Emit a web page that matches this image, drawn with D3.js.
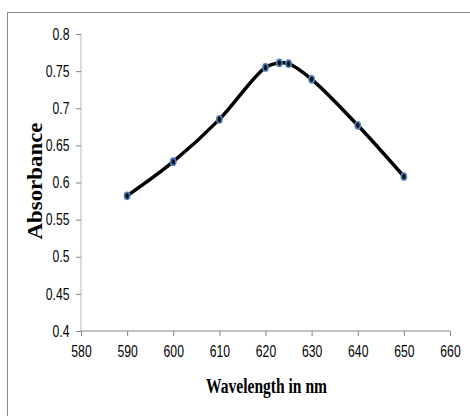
<!DOCTYPE html>
<html>
<head>
<meta charset="utf-8">
<script src="https://cdn.jsdelivr.net/npm/d3@7"></script>
<style>
  html, body { margin: 0; padding: 0; background: #fff; }
  svg { display: block; }
  .tick text { font-family: "Liberation Sans Narrow", "Arial Narrow", "Liberation Sans", sans-serif; font-size: 16px; fill: #000; }
</style>
</head>
<body>
<svg id="chart" width="470" height="416"></svg>
<script>
const wavelengths = [590, 600, 610, 620, 623, 625, 630, 640, 650];
const absorbance = [0.582, 0.628, 0.685, 0.755, 0.761, 0.760, 0.739, 0.677, 0.608];
const xTicks = [580, 590, 600, 610, 620, 630, 640, 650, 660];
const yTicks = [0.4, 0.45, 0.5, 0.55, 0.6, 0.65, 0.7, 0.75, 0.8];
const xTitle = "Wavelength in nm";
const yTitle = "Absorbance";

const svg = d3.select("#chart");
const squeeze = 0.76;

// outer chart border (extends past right/bottom edges)
svg.append("rect")
  .attr("x", 7.5).attr("y", 12.5)
  .attr("width", 520).attr("height", 520)
  .attr("fill", "none").attr("stroke", "#868686").attr("stroke-width", 1);

const x = d3.scaleLinear().domain([580, 660]).range([81, 450]);
const y = d3.scaleLinear().domain([0.4, 0.8]).range([331, 34]);

// y axis
const yAxis = svg.append("g")
  .attr("transform", `translate(${x(580)},0)`)
  .call(d3.axisLeft(y).tickValues(yTicks).tickSize(5).tickPadding(6)
        .tickFormat(d => d3.format("")(+d.toFixed(2))));
yAxis.select(".domain").attr("stroke", "#d0d0d0").attr("stroke-width", 1.5)
  .attr("d", `M0,${y(0.4)}V${y(0.8)}`);
yAxis.selectAll(".tick line").attr("stroke", "#868686");
yAxis.selectAll(".tick text")
  .attr("x", -11.5 / squeeze)
  .attr("transform", `scale(${squeeze},1)`);

// x axis
const xAxis = svg.append("g")
  .attr("transform", `translate(0,${y(0.4)})`)
  .call(d3.axisBottom(x).tickValues(xTicks).tickSize(5).tickPadding(10));
xAxis.select(".domain").attr("stroke", "#868686").attr("stroke-width", 1)
  .attr("d", `M${x(580)},0H${x(660)}`);
xAxis.selectAll(".tick line").attr("stroke", "#868686");
xAxis.selectAll(".tick text").attr("transform", `scale(${squeeze},1)`);

// line
const pts = wavelengths.map((w, i) => [w, absorbance[i]]);
const line = d3.line().x(d => x(d[0])).y(d => y(d[1])).curve(d3.curveCatmullRom.alpha(0.5));
svg.append("path").datum(pts)
  .attr("d", line)
  .attr("fill", "none").attr("stroke", "#000").attr("stroke-width", 3.5)
  .attr("stroke-linejoin", "round").attr("stroke-linecap", "round");

// markers
svg.append("g").selectAll("ellipse").data(pts).join("ellipse")
  .attr("cx", d => x(d[0])).attr("cy", d => y(d[1]))
  .attr("rx", 2.6).attr("ry", 3.6)
  .attr("fill", "#111").attr("stroke", "#4f81bd").attr("stroke-width", 1.6);

// titles
svg.append("text")
  .attr("x", 266.5).attr("y", 393)
  .attr("text-anchor", "middle")
  .attr("font-family", "'Liberation Serif', 'Times New Roman', serif")
  .attr("font-weight", "bold").attr("font-size", 20)
  .attr("textLength", 121).attr("lengthAdjust", "spacingAndGlyphs")
  .text(xTitle);

svg.append("text")
  .attr("transform", "translate(42,181) rotate(-90)")
  .attr("text-anchor", "middle")
  .attr("font-family", "'Liberation Serif', 'Times New Roman', serif")
  .attr("font-weight", "bold").attr("font-size", 20)
  .attr("textLength", 117).attr("lengthAdjust", "spacingAndGlyphs")
  .text(yTitle);
</script>
</body>
</html>
